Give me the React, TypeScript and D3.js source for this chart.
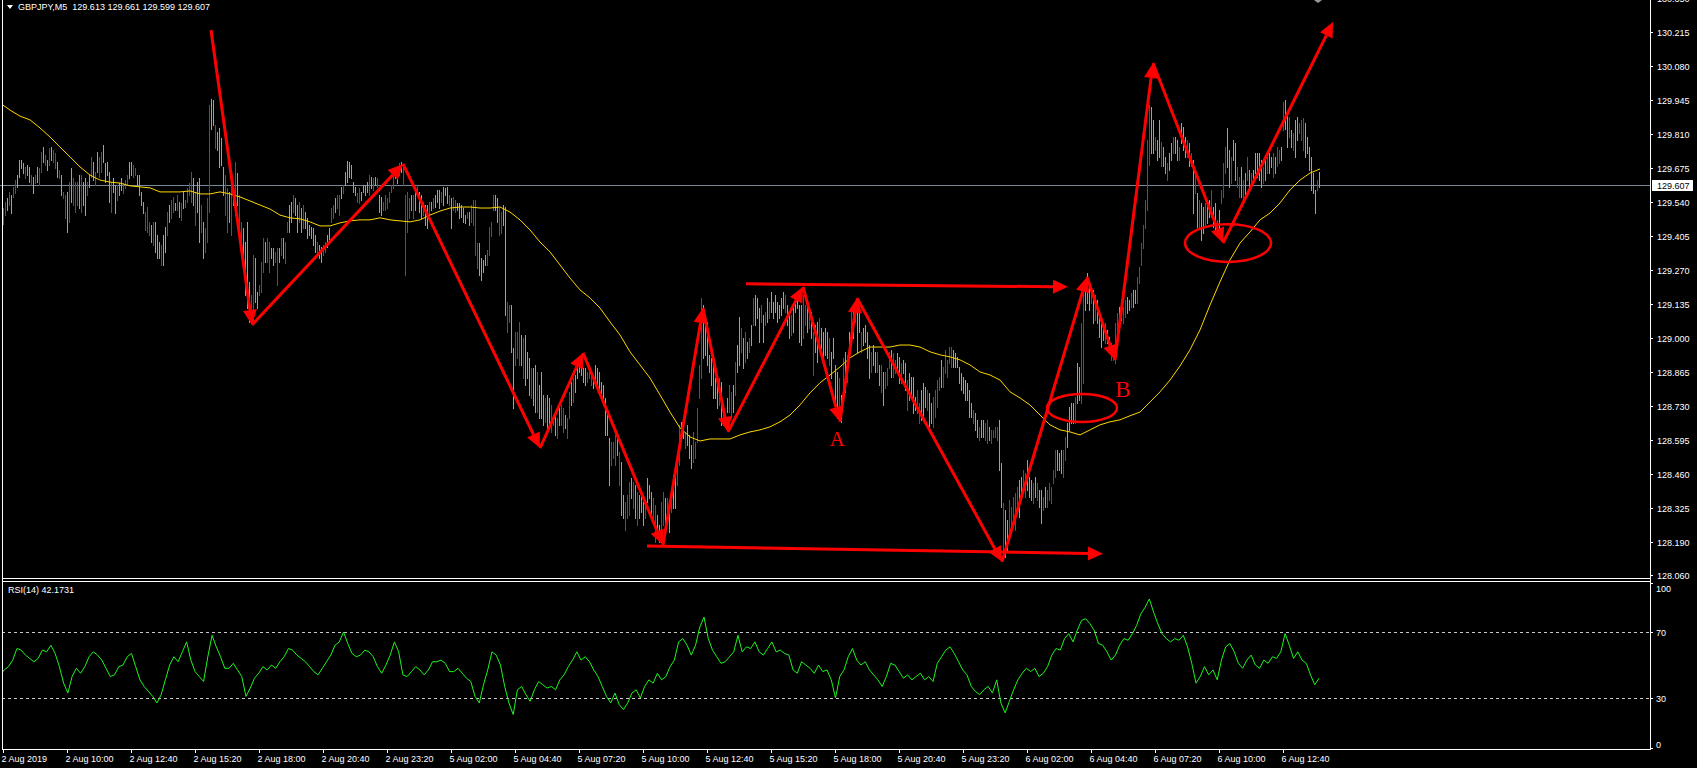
import React from "react";
import * as d3 from "d3";

// ---------- DATA ----------
const SYMBOL = "GBPJPY,M5";
const LAST_QUOTE = ["129.613", "129.661", "129.599", "129.607"];
const BID = 129.607;
const RSI_TITLE = "RSI(14) 42.1731";
const BASE = 128; // prices below are stored in points (0.001) above this base

const highs = [
1516,1540,1556,1580,1568,1600,1627,1647,1707,1707,
1695,1679,1687,1679,1647,1639,1647,1679,1675,1738,
1758,1727,1707,1754,1758,1746,1735,1699,1667,1647,
1580,1568,1580,1619,1675,1635,1619,1619,1647,1647,
1619,1635,1619,1647,1719,1699,1659,1738,1719,1738,
1766,1695,1699,1659,1619,1635,1608,1608,1615,1635,
1615,1627,1647,1699,1699,1687,1675,1647,1647,1580,
1540,1500,1520,1461,1449,1461,1461,1409,1381,1369,
1409,1441,1500,1528,1548,1560,1536,1568,1540,1536,
1580,1548,1596,1615,1659,1635,1580,1619,1635,1528,
1461,1437,1556,1925,1950,1945,1846,1818,1834,1794,
1679,1647,1596,1580,1635,1580,1699,1655,1568,1461,
1437,1381,1461,1222,1171,1330,1318,1183,1211,1302,
1397,1381,1397,1381,1357,1357,1342,1357,1357,1397,
1397,1381,1461,1528,1540,1568,1556,1528,1540,1516,
1528,1500,1477,1449,1441,1437,1409,1381,1369,1361,
1369,1381,1409,1437,1516,1528,1556,1568,1568,1600,
1608,1659,1703,1699,1687,1619,1600,1576,1596,1580,
1608,1608,1619,1647,1639,1635,1639,1635,1568,1560,
1540,1568,1556,1580,1608,1647,1675,1679,1695,1699,
1687,1568,1580,1556,1568,1568,1596,1608,1580,1568,
1540,1528,1528,1540,1540,1556,1568,1588,1588,1580,
1600,1596,1600,1568,1556,1560,1548,1536,1536,1528,
1516,1488,1500,1500,1528,1548,1548,1377,1377,1318,
1310,1330,1349,1441,1461,1568,1568,1556,1516,1500,
1528,1520,1143,1131,1131,961,1024,1024,1064,1012,
1000,1012,945,921,881,881,893,865,814,865,
774,762,774,762,734,694,707,683,734,734,
722,694,683,786,826,841,853,893,921,893,
881,881,865,881,865,853,893,881,865,826,
814,762,707,603,587,587,615,603,547,508,
377,349,377,429,444,429,417,389,377,389,
349,349,444,417,389,365,337,298,258,349,
389,365,365,337,389,456,468,536,655,667,
655,627,655,615,575,627,587,722,893,1159,
1131,1080,1064,933,921,893,841,826,841,826,
734,694,762,814,786,814,905,972,1084,1040,
1000,1024,984,1000,1052,1159,1171,1159,1119,1131,
1091,1103,1159,1143,1183,1143,1171,1143,1131,1159,
1183,1171,1131,1103,1091,1131,1159,1183,1131,1131,
1171,1131,1143,1103,1103,1024,1052,1064,1080,1040,
1024,1040,1024,1000,945,1000,893,865,841,774,
921,945,933,1024,1103,1131,1143,1131,1119,1024,
1040,1052,1024,972,945,972,945,945,893,893,
865,865,881,945,953,941,913,941,925,901,
913,901,833,861,845,845,766,794,742,794,
822,806,794,782,742,766,794,833,845,913,
885,953,913,964,964,953,941,925,885,861,
845,833,822,794,742,714,702,675,647,675,
675,663,675,647,635,635,647,647,675,504,
345,317,278,357,329,369,385,409,436,448,
476,464,516,448,436,425,448,425,397,397,
369,409,397,425,409,476,555,555,543,555,
555,607,663,726,742,742,766,901,885,1060,
1203,1219,1258,1219,1203,1191,1171,1151,1111,1072,
1060,1060,1032,1004,980,941,1060,1099,1123,1111,
1123,1151,1163,1151,1179,1191,1191,1242,1282,1377,
1449,1548,1786,1925,1917,1866,1798,1786,1866,1778,
1758,1719,1695,1735,1774,1798,1798,1786,1758,1854,
1838,1798,1786,1774,1735,1707,1655,1576,1548,1536,
1520,1536,1548,1548,1588,1520,1536,1469,1508,1588,
1695,1758,1834,1746,1719,1786,1774,1679,1639,1679,
1627,1655,1719,1667,1655,1667,1735,1735,1735,1707,
1679,1707,1719,1735,1719,1735,1719,1758,1746,1758,
1937,1945,1897,1877,1826,1814,1866,1877,1854,1866,
1874,1854,1798,1758,1719,1655,1588,1627,1661
];

const lows = [
1453,1488,1508,1528,1496,1560,1576,1600,1639,1675,
1655,1635,1647,1619,1608,1576,1615,1619,1608,1659,
1699,1687,1667,1687,1707,1699,1675,1639,1635,1568,
1556,1477,1421,1461,1540,1528,1500,1528,1516,1500,
1528,1488,1568,1600,1639,1627,1608,1659,1639,1659,
1699,1619,1647,1540,1500,1580,1496,1548,1568,1588,
1576,1596,1608,1635,1647,1639,1647,1608,1568,1528,
1496,1429,1421,1409,1381,1369,1342,1318,1318,1290,
1290,1342,1409,1461,1477,1500,1508,1508,1481,1469,
1516,1520,1540,1568,1540,1528,1449,1500,1381,1421,
1318,1342,1381,1500,1830,1846,1754,1746,1679,1687,
1568,1488,1421,1461,1409,1528,1488,1528,1409,1369,
1278,1171,1119,1064,1103,1064,1143,1119,1171,1183,
1262,1302,1302,1262,1318,1290,1302,1211,1302,1330,
1318,1298,1421,1421,1461,1500,1488,1421,1461,1421,
1437,1437,1397,1409,1397,1369,1342,1342,1318,1302,
1330,1342,1361,1381,1461,1477,1500,1516,1488,1556,
1576,1608,1619,1639,1635,1580,1568,1540,1536,1548,
1580,1568,1580,1568,1596,1588,1608,1600,1500,1488,
1508,1508,1516,1540,1580,1596,1635,1615,1647,1659,
1608,1250,1421,1477,1508,1477,1508,1568,1500,1477,
1488,1449,1437,1477,1508,1516,1520,1540,1516,1540,
1528,1568,1536,1528,1437,1508,1500,1508,1477,1481,
1461,1457,1477,1449,1461,1449,1330,1278,1250,1230,
1262,1290,1290,1330,1405,1508,1508,1461,1409,1417,
1449,1091,1024,1064,945,723,893,921,893,893,
841,814,841,774,762,734,707,707,683,683,
655,667,627,643,627,655,615,603,655,655,
627,643,603,683,734,746,786,841,865,853,
826,814,826,841,814,802,826,814,786,762,
734,615,615,417,496,524,496,536,417,298,
286,238,286,298,365,325,286,258,286,310,
258,286,349,365,298,286,190,206,190,218,
258,218,286,230,310,325,325,417,496,615,
603,563,575,524,484,508,524,587,762,841,
921,933,893,865,814,762,762,722,734,655,
655,655,707,707,683,707,774,865,893,945,
881,905,921,945,972,1052,1052,1080,984,1064,
984,1052,1064,1080,1103,1080,1103,1064,1080,1091,
1119,1103,1052,1000,1012,1024,1103,1119,984,972,
1000,1052,1024,1040,1000,853,945,905,972,961,
905,933,921,893,841,921,734,683,683,667,
762,786,826,945,1000,1000,1064,945,1024,945,
972,984,921,841,865,893,865,865,814,786,
734,802,814,881,845,845,861,873,822,822,
861,794,714,754,766,702,714,702,663,675,
675,726,714,647,663,647,687,726,794,806,
806,861,845,901,885,885,885,885,822,794,
782,754,754,687,687,663,635,607,595,607,
607,595,583,595,583,607,607,595,476,329,
147,131,159,198,238,266,238,329,290,357,
385,369,397,369,357,345,369,357,329,266,
317,329,329,357,345,425,448,476,476,464,
448,516,567,635,663,663,663,742,754,742,
822,1111,1139,1111,1139,1060,1072,1060,1004,965,
992,980,980,953,913,913,901,980,1044,1072,
1060,1084,1099,1111,1123,1123,1139,1139,1219,1290,
1357,1437,1508,1687,1735,1735,1746,1707,1719,1683,
1683,1655,1627,1667,1707,1735,1735,1707,1707,1774,
1746,1719,1719,1683,1683,1496,1576,1441,1441,1389,
1417,1441,1457,1481,1481,1441,1417,1417,1417,1536,
1560,1655,1679,1600,1615,1707,1627,1600,1560,1560,
1548,1560,1627,1600,1600,1615,1655,1639,1627,1600,
1615,1627,1655,1655,1679,1639,1655,1683,1695,1707,
1826,1830,1758,1798,1758,1746,1719,1786,1814,1786,
1746,1719,1735,1667,1588,1576,1496,1588,1599
];

// bar direction: g = bullish, r = bearish
const directions =
  "rrgrgrrggg" + "grggrgrgrr" + "grgrgrrgrg" + "rrgrgrrrgr" + "ggrgrgrgrr" +
  "ggggrggrgg" + "rrrggrrggg" + "grrrgrgggr" + "ggrgrrgrgr" + "grrrrgrggr" +
  "grrrggrggg" + "grrgrgrgrr" + "ggggrrggrr" + "rgrrggrrgr" + "grrggrggrg" +
  "rggggggrgg" + "rrggrrgrrg" + "rggggggrrg" + "gggrgrgrgg" + "rrrrrrggrg" +
  "rrrrgrgrgg" + "rggrgrgggr" + "gggrgrrggg" + "ggrgrrrrgg" + "ggrrrrggrr" +
  "ggrrggrrrg" + "rgggrggrgg" + "grggrrgrgr" + "rgrrgrgggg" + "ggrrrggggg" +
  "ggggrrrgrg" + "grrrgrgrgg" + "grgggrrggr" + "rgrgrggrrg" + "grgggrrrrr" +
  "ggggggggrg" + "rggrrgrggr" + "grgrgrgggr" + "grgrgggggg" + "grggrggggg" +
  "rrgrgrggrg" + "gggrggggrg" + "rgrgrgrggr" + "ggggrggrgr" + "grrrgrrggr" +
  "ggrggggrrg" + "ggrggrrrrg" + "rrrrrggggg" + "gggggrggrg" + "grrgrrrrgg" +
  "rggrrrrrgg" + "rrgggrgrgg" + "rgrrrrrggg" + "rrggggrggr" + "rgggrgrggg" +
  "grggrrrrgg" + "rrggrggrrr" + "rrrrggrggr" + "ggrggrggrg" + "ggrgrgrgrg" +
  "grggrggrgr" + "rrggrggrrg" + "rgrgrggggg" + "rgrggrgrrg" + "rggrgrggrr" +
  "rggggggrg";

// yellow moving average, sampled every 5 bars (points above BASE)
const MA_STEP = 5;
const maValues = [
1933,1905,1881,1866,1834,1798,1758,1719,1679,1647,
1627,1619,1615,1604,1600,1596,1580,1580,1580,1584,
1572,1572,1580,1572,1560,1544,1528,1512,1488,1477,
1473,1461,1445,1445,1457,1465,1469,1469,1477,1469,
1465,1461,1469,1488,1504,1516,1520,1520,1516,1516,
1520,1500,1469,1429,1381,1342,1290,1238,1191,1159,
1119,1064,1012,945,893,841,774,706,643,607,
591,599,599,599,615,627,635,647,667,694,
734,782,822,853,885,921,945,964,964,964,
972,972,964,945,933,925,913,893,865,853,
833,786,762,734,694,655,635,627,615,635,
655,667,675,691,706,746,786,833,889,953,
1032,1131,1223,1310,1377,1421,1469,1496,1536,1588,
1627,1655,1671
];

// RSI(14) values across the whole period
const rsiValues = [
44,47,49,53,60,59,56,54,52,54,59,58,62,57,49,39,33,43,48,45,
49,55,58,56,53,48,43,44,49,50,55,57,49,41,37,34,31,27,32,41,
50,55,52,58,64,53,46,43,40,55,68,61,55,48,48,51,47,43,31,36,
42,45,49,47,50,48,52,55,60,59,56,54,52,49,46,44,48,52,56,62,
64,70,63,57,55,56,59,58,55,49,45,50,56,64,58,44,43,46,49,47,
44,47,52,52,53,51,46,46,48,45,42,40,31,27,38,47,58,56,50,37,
27,20,35,37,32,28,35,40,38,36,37,35,41,44,49,53,58,53,55,52,
47,43,37,31,27,33,26,23,27,33,35,30,37,41,39,45,41,43,49,53,
64,66,62,56,62,73,79,66,59,55,51,52,55,58,68,58,61,60,64,58,
56,60,64,58,59,57,56,47,45,52,50,48,45,50,46,47,41,30,43,47,
55,60,53,50,52,47,44,41,37,43,51,50,46,42,44,41,43,45,41,43,
40,51,55,59,61,57,52,47,44,37,34,32,35,37,33,41,27,21,28,35,
41,45,48,46,48,43,45,49,56,60,59,66,69,64,71,77,78,75,71,63,
62,58,53,56,62,66,65,69,74,81,85,90,82,75,69,66,64,66,65,68,
61,51,39,43,49,44,47,41,53,61,63,58,51,48,53,56,50,48,53,51,
55,54,58,69,62,54,58,53,51,44,38,42
];

const priceTicks = [
"130.350","130.215","130.080","129.945","129.810","129.675","129.540","129.405","129.270",
"129.135","129.000","128.865","128.730","128.595","128.460","128.325","128.190","128.060"
];
const rsiTicks = [100, 70, 30, 0];
const rsiLevels = [70, 30];
const TIME_STEP_BARS = 32;
const timeLabels = [
"2 Aug 2019","2 Aug 10:00","2 Aug 12:40","2 Aug 15:20","2 Aug 18:00","2 Aug 20:40","2 Aug 23:20",
"5 Aug 02:00","5 Aug 04:40","5 Aug 07:20","5 Aug 10:00","5 Aug 12:40","5 Aug 15:20","5 Aug 18:00",
"5 Aug 20:40","5 Aug 23:20","6 Aug 02:00","6 Aug 04:40","6 Aug 07:20","6 Aug 10:00","6 Aug 12:40"
];

// hand-drawn zigzag: [bar, price]; each segment ends with an arrowhead
const zigzag: [number, number][] = [
[104,130.223],[124.5,129.052],[200,129.691],[268.5,128.563],[290,128.941],[330,128.178],
[350,129.119],[362.5,128.627],[400,129.203],[418.5,128.667],[427,129.159],[499.5,128.111],
[542,129.242],[556,128.913],[575,130.092],[610,129.377],[665,130.255]
];
const levelArrows: [number, number, number, number][] = [
[371.5,129.215,532.5,129.203],
[322,128.174,550,128.143]
];
const circles = [
{ bar: 539.5, price: 128.722, rBars: 17.5, rPrice: 0.056 },
{ bar: 612.5, price: 129.377, rBars: 21.5, rPrice: 0.075 }
];
const notes = [
{ text: "A", bar: 417, price: 128.571, size: 21 },
{ text: "B", bar: 560, price: 128.766, size: 23 }
];

// ---------- STYLE ----------
const W = 1697, H = 768;
const LEFT = 2, RIGHT = 1650, MAIN_BOTTOM = 578, RSI_TOP = 581, RSI_BOTTOM = 749;
const FONT = "'Liberation Sans', Arial, sans-serif";
const UP = "#36ea36";
const DOWN = "#e41616";
const MA_COLOR = "#ffd700";
const RSI_COLOR = "#1cf51c";
const ANN = "#ff0000";
const TXT = "#ffffff";

function arrowHead(x1: number, y1: number, x2: number, y2: number, len = 15, half = 7) {
  const dx = x2 - x1, dy = y2 - y1;
  const d = Math.hypot(dx, dy) || 1;
  const ux = dx / d, uy = dy / d;
  const bx = x2 - ux * len, by = y2 - uy * len;
  const nx = -uy, ny = ux;
  return {
    base: [bx, by],
    pts: `${x2},${y2} ${bx + nx * half},${by + ny * half} ${bx - nx * half},${by - ny * half}`,
  };
}

export default function App() {
  const n = highs.length;
  const x = d3.scaleLinear().domain([0, n - 1]).range([3, 1319]);
  const y = d3.scaleLinear().domain([128.06, 130.215]).range([574.7, 32]);
  const yr = d3.scaleLinear().domain([0, 100]).range([747.5, 582.5]);
  const p = (v: number) => BASE + v / 1000;

  const maLine = d3
    .line<number>()
    .x((_, k) => x(k * MA_STEP - 1.5))
    .y((v) => y(p(v)));

  const rsiIdx = d3.scaleLinear().domain([0, rsiValues.length - 1]).range([-1.5, n - 1]);
  const rsiLine = d3
    .line<number>()
    .x((_, j) => x(rsiIdx(j)))
    .y((v) => yr(v));

  const bars = highs.map((hv, i) => {
    const xi = Math.round(x(i));
    const top = Math.round(y(p(hv)));
    const bot = Math.round(y(p(lows[i])));
    return (
      <rect key={i} x={xi} y={top} width={1} height={Math.max(1, bot - top + 1)}
        fill={directions[i] === "g" ? UP : DOWN} />
    );
  });

  const zigzagEls = zigzag.slice(1).map((pt, k) => {
    const a = zigzag[k];
    const x1 = x(a[0]), y1 = y(a[1]), x2 = x(pt[0]), y2 = y(pt[1]);
    const hd = arrowHead(x1, y1, x2, y2);
    return (
      <g key={"z" + k}>
        <line x1={x1} y1={y1} x2={hd.base[0]} y2={hd.base[1]} stroke={ANN} strokeWidth={3} />
        <polygon points={hd.pts} fill={ANN} />
      </g>
    );
  });

  const levelEls = levelArrows.map((a, k) => {
    const x1 = x(a[0]), y1 = y(a[1]), x2 = x(a[2]), y2 = y(a[3]);
    const hd = arrowHead(x1, y1, x2, y2);
    return (
      <g key={"l" + k}>
        <line x1={x1} y1={y1} x2={hd.base[0]} y2={hd.base[1]} stroke={ANN} strokeWidth={3} />
        <polygon points={hd.pts} fill={ANN} />
      </g>
    );
  });

  const circleEls = circles.map((c, k) => (
    <ellipse key={"c" + k} cx={x(c.bar)} cy={y(c.price)}
      rx={x(c.bar + c.rBars) - x(c.bar)} ry={y(c.price - c.rPrice) - y(c.price)}
      fill="none" stroke={ANN} strokeWidth={2.5} />
  ));

  const noteEls = notes.map((t, k) => (
    <text key={"t" + k} x={x(t.bar)} y={y(t.price)} fill={ANN} fontSize={t.size}
      fontFamily="'Liberation Serif', 'Times New Roman', serif" textAnchor="middle">{t.text}</text>
  ));

  const bidY = Math.round(y(BID)) + 0.5;

  return (
    <svg width={W} height={H} style={{ position: "absolute", left: 0, top: 0, display: "block" }}
      xmlns="http://www.w3.org/2000/svg">
      <rect x={0} y={0} width={W} height={H} fill="#000" />
      <defs>
        <clipPath id="mainClip"><rect x={LEFT + 1} y={0} width={RIGHT - LEFT - 1} height={MAIN_BOTTOM} /></clipPath>
        <clipPath id="rsiClip"><rect x={LEFT + 1} y={RSI_TOP + 1} width={RIGHT - LEFT - 1} height={RSI_BOTTOM - RSI_TOP - 1} /></clipPath>
      </defs>

      {/* bid line */}
      <line x1={0} x2={RIGHT} y1={bidY} y2={bidY} stroke="#778899" strokeWidth={1} />

      <g clipPath="url(#mainClip)">
        {bars}
        <path d={maLine(maValues) || ""} fill="none" stroke={MA_COLOR} strokeWidth={1} />
        {zigzagEls}
        {levelEls}
        {circleEls}
        {noteEls}
      </g>

      {/* RSI */}
      {rsiLevels.map((lv) => (
        <line key={lv} x1={LEFT} x2={RIGHT} y1={Math.round(yr(lv)) + 0.5} y2={Math.round(yr(lv)) + 0.5}
          stroke="#c8c8c8" strokeWidth={1} strokeDasharray="3,3" />
      ))}
      <g clipPath="url(#rsiClip)">
        <path d={rsiLine(rsiValues) || ""} fill="none" stroke={RSI_COLOR} strokeWidth={1} />
      </g>

      {/* frames */}
      <line x1={LEFT + 0.5} x2={LEFT + 0.5} y1={0} y2={RSI_BOTTOM} stroke="#fff" strokeWidth={1} />
      <line x1={RIGHT + 0.5} x2={RIGHT + 0.5} y1={0} y2={RSI_BOTTOM + 1} stroke="#fff" strokeWidth={1} />
      <line x1={LEFT} x2={RIGHT + 1} y1={MAIN_BOTTOM + 0.5} y2={MAIN_BOTTOM + 0.5} stroke="#fff" strokeWidth={1} />
      <line x1={LEFT} x2={RIGHT + 1} y1={RSI_TOP + 0.5} y2={RSI_TOP + 0.5} stroke="#fff" strokeWidth={1} />
      <line x1={LEFT} x2={RIGHT + 1} y1={RSI_BOTTOM + 0.5} y2={RSI_BOTTOM + 0.5} stroke="#fff" strokeWidth={1} />

      {/* price axis */}
      {priceTicks.map((t) => {
        const ty = Math.round(y(+t)) + 0.5;
        return (
          <g key={t}>
            <line x1={RIGHT} x2={RIGHT + 3} y1={ty} y2={ty} stroke="#fff" />
            <text x={RIGHT + 7} y={ty + 3.3} fill={TXT} fontSize={9} fontFamily={FONT}>{t}</text>
          </g>
        );
      })}
      <rect x={RIGHT + 2} y={bidY - 5.5} width={41} height={11} fill="#fff" />
      <text x={RIGHT + 7} y={bidY + 3.3} fill="#000" fontSize={9} fontFamily={FONT}>{BID.toFixed(3)}</text>

      {/* rsi axis */}
      {rsiTicks.map((t) => {
        const ty = Math.round(yr(t)) + 0.5;
        const ly = t === 100 ? ty + 5 : t === 0 ? ty - 4 : ty;
        return (
          <g key={"r" + t}>
            <line x1={RIGHT} x2={RIGHT + 3} y1={ty} y2={ty} stroke="#fff" />
            <text x={RIGHT + 6} y={ly + 3.3} fill={TXT} fontSize={9} fontFamily={FONT}>{t}</text>
          </g>
        );
      })}

      {/* time axis */}
      {timeLabels.map((t, k) => {
        const tx = Math.round(x(k * TIME_STEP_BARS)) + 0.5;
        return (
          <g key={t}>
            <line x1={tx} x2={tx} y1={RSI_BOTTOM} y2={RSI_BOTTOM + 4} stroke="#fff" />
            <text x={tx - 2} y={762} fill={TXT} fontSize={9} fontFamily={FONT}>{t}</text>
          </g>
        );
      })}

      {/* titles */}
      <polygon points="7,5 13,5 10,9" fill="#fff" />
      <text x={18} y={9.5} fill={TXT} fontSize={9} fontFamily={FONT} xmlSpace="preserve">
        {SYMBOL + "  " + LAST_QUOTE.join(" ")}
      </text>
      <text x={8} y={593} fill={TXT} fontSize={9} fontFamily={FONT}>{RSI_TITLE}</text>
      <polygon points="1314,0 1322,0 1318,3" fill="#9a9a9a" />
    </svg>
  );
}
